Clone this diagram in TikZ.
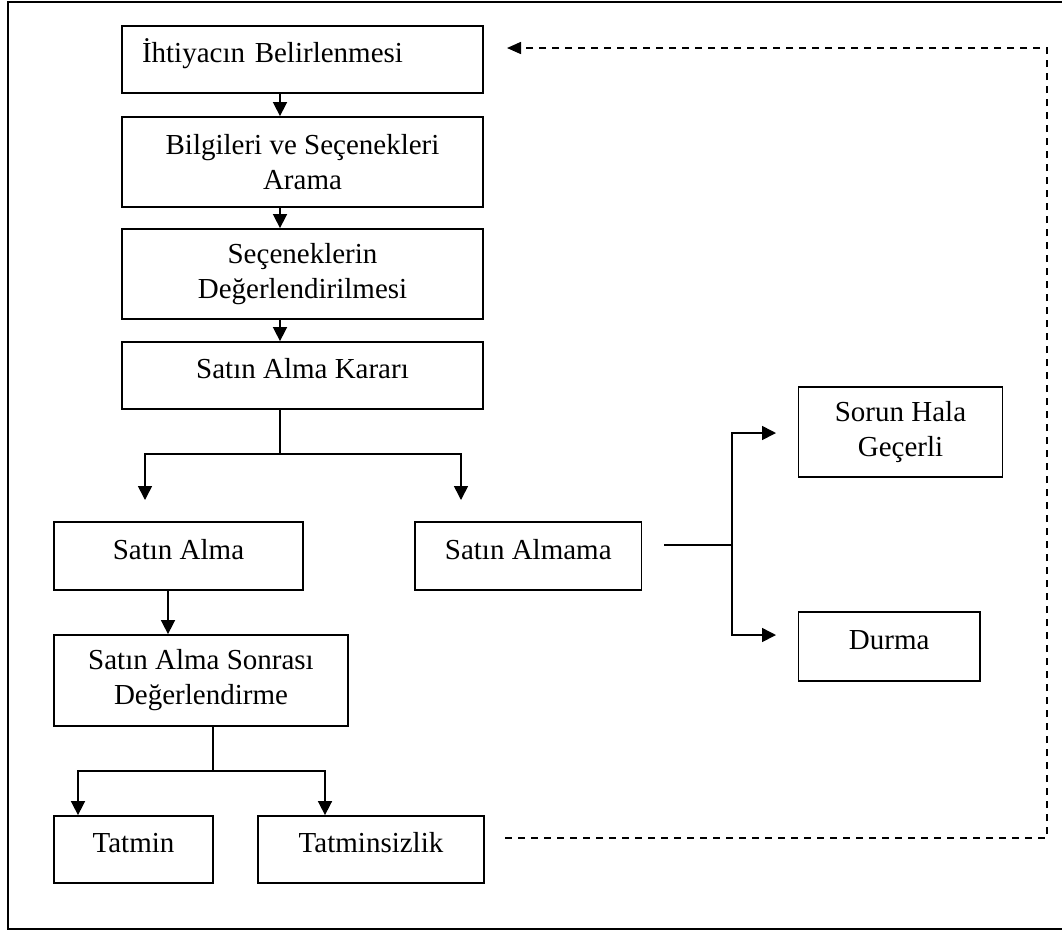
\documentclass[tikz,border=0pt]{standalone}
\usepackage{fontspec}
\setmainfont{Liberation Serif}
\usetikzlibrary{arrows.meta}
\begin{document}
\begin{tikzpicture}[x=1pt,y=-1pt,
  box/.style={draw, line width=1.8pt, inner sep=0pt, align=center, font=\fontsize{29}{35}\selectfont},
  one/.style={text height=20pt, text depth=14pt},
  arr/.style={line width=1.6pt, -{Triangle[length=14pt,width=14pt]}},
  ln/.style={line width=1.6pt},
  dsh/.style={line width=1.5pt, dash pattern=on 7pt off 6pt}]
\useasboundingbox (0,0) rectangle (1062,930);
\draw[line width=2pt] (1070,2) -- (8,2) -- (8,929) -- (1070,929);

% main column
\node[box, one, align=left, inner xsep=20pt, text width=321pt, minimum height=67pt] (b1) at (302.5,59.5) {İhtiyacın Belirlenmesi};
\node[box, minimum width=361pt, minimum height=90pt] (b2) at (302.5,162) {Bilgileri ve Seçenekleri\\Arama};
\node[box, minimum width=361pt, minimum height=90pt] (b3) at (302.5,274) {Seçeneklerin\\Değerlendirilmesi};
\node[box, one, minimum width=361pt, minimum height=67pt] (b4) at (302.5,375.5) {Satın Alma Kararı};

\node[box, one, minimum width=249pt, minimum height=68pt] (sa) at (178.5,556) {Satın Alma};
\node[box, one, minimum width=226.5pt, minimum height=68pt] (sn) at (528.25,556) {Satın Almama};
\node[box, minimum width=294pt, minimum height=91pt] (sd) at (201,680.5) {Satın Alma Sonrası\\Değerlendirme};
\node[box, one, minimum width=159pt, minimum height=67pt] (tm) at (133.5,849.5) {Tatmin};
\node[box, one, minimum width=226pt, minimum height=67pt] (ts) at (371,849.5) {Tatminsizlik};

\node[box, minimum width=204pt, minimum height=90pt] (sh) at (900.5,432) {Sorun Hala\\Geçerli};
\node[box, one, minimum width=181.5pt, minimum height=69pt] (du) at (889.25,646.5) {Durma};

% connectors in main column
\coordinate (ax) at (280,0);
\draw[arr] (b1.south -| ax) -- (b2.north -| ax);
\draw[arr] (b2.south -| ax) -- (b3.north -| ax);
\draw[arr] (b3.south -| ax) -- (b4.north -| ax);

\coordinate (j1) at (280,454);
\coordinate (t1) at (145,500);
\coordinate (t2) at (461,500);
\draw[ln] (b4.south -| j1) -- (j1);
\draw[arr] (j1) -| (t1);
\draw[arr] (j1) -| (t2);

\coordinate (c2) at (168,0);
\draw[arr] (sa.south -| c2) -- (sd.north -| c2);

\coordinate (j2) at (213,771);
\coordinate (c3) at (78,0);
\coordinate (c4) at (325,0);
\draw[ln] (sd.south -| j2) -- (j2);
\draw[arr] (j2) -| (tm.north -| c3);
\draw[arr] (j2) -| (ts.north -| c4);

% right branch
\coordinate (s0) at (664,545);
\coordinate (j3) at (732,545);
\coordinate (r1) at (776,433);
\coordinate (r2) at (776,635);
\draw[ln] (s0) -- (j3);
\draw[arr] (j3) |- (r1);
\draw[arr] (j3) |- (r2);

% feedback dashed loop
\coordinate (d0) at (505,838);
\coordinate (d1) at (1047,838);
\coordinate (d2) at (1047,48);
\coordinate (d3) at (507,48);
\draw[dsh, -{Triangle[length=14pt,width=12pt]}] (d0) -- (d1) -- (d2) -- (d3);
\end{tikzpicture}
\end{document}
